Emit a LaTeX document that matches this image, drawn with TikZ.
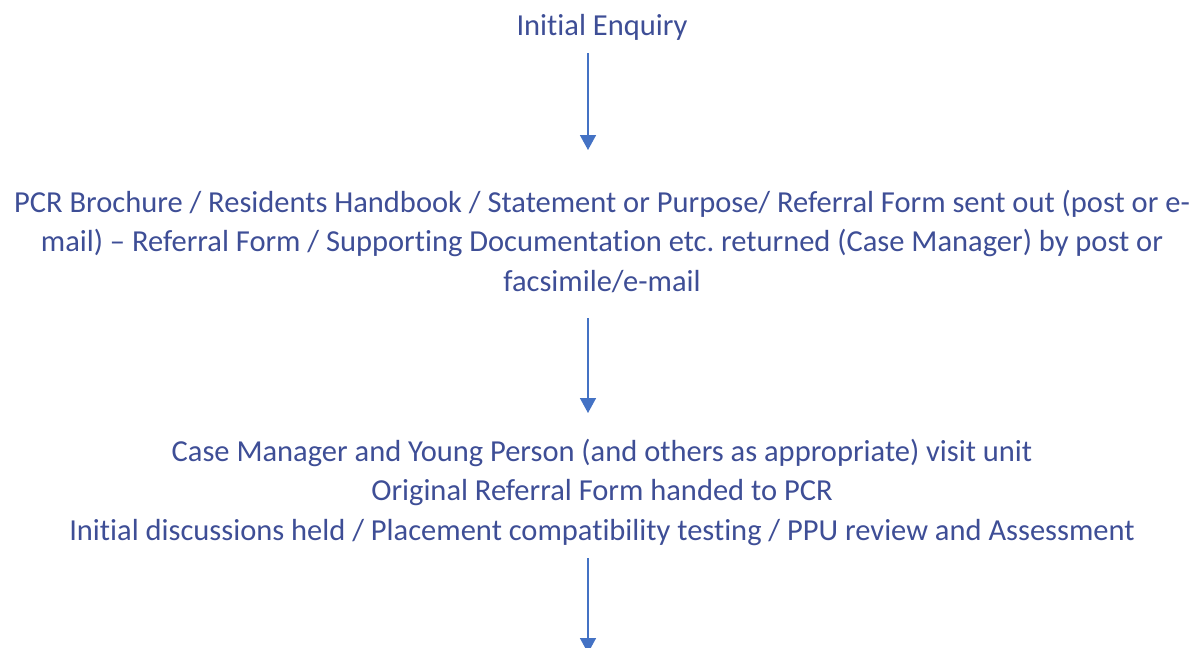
\documentclass[tikz,border=0pt]{standalone}
\usepackage{fontspec}
\setmainfont{Carlito}[Ligatures={NoCommon}]
\usetikzlibrary{arrows.meta,calc}
\definecolor{txtblue}{RGB}{62,78,150}
\definecolor{arrblue}{RGB}{68,114,196}
\frenchspacing
\begin{document}
\begin{tikzpicture}[x=1pt,y=-1pt,
  lbl/.style={text=txtblue, font=\fontsize{30.5}{39.4}\selectfont, align=center, inner sep=0pt, anchor=base},
  flow/.style={draw=arrblue, line width=1.6pt, -{Triangle[width=16pt,length=15pt]}}]
\useasboundingbox (0,0) rectangle (1203,648);
\clip (0,0) rectangle (1203,648);
\node[lbl] (a) at (602,35) {Initial Enquiry};
\node[lbl] (b) at (602,291) {PCR Brochure / Residents Handbook / Statement or Purpose/ Referral Form sent out (post or e-\\mail) – Referral Form / Supporting Documentation etc. returned (Case Manager) by post or\\facsimile/e-mail};
\node[lbl] (c) at (602,540) {Case Manager and Young Person (and others as appropriate) visit unit\\Original Referral Form handed to PCR\\Initial discussions held / Placement compatibility testing / PPU review and Assessment};
\coordinate (a1) at ($(a.base)+(-14,18)$);
\coordinate (b1) at ($(b.base)+(-14,-141)$);
\coordinate (b2) at ($(b.base)+(-14,27)$);
\coordinate (c1) at ($(c.base)+(-14,-127)$);
\coordinate (c2) at ($(c.base)+(-14,18)$);
\coordinate (d1) at ($(c.base)+(-14,113)$);
\draw[flow] (a1) -- (b1);
\draw[flow] (b2) -- (c1);
\draw[flow] (c2) -- (d1);
\end{tikzpicture}
\end{document}
